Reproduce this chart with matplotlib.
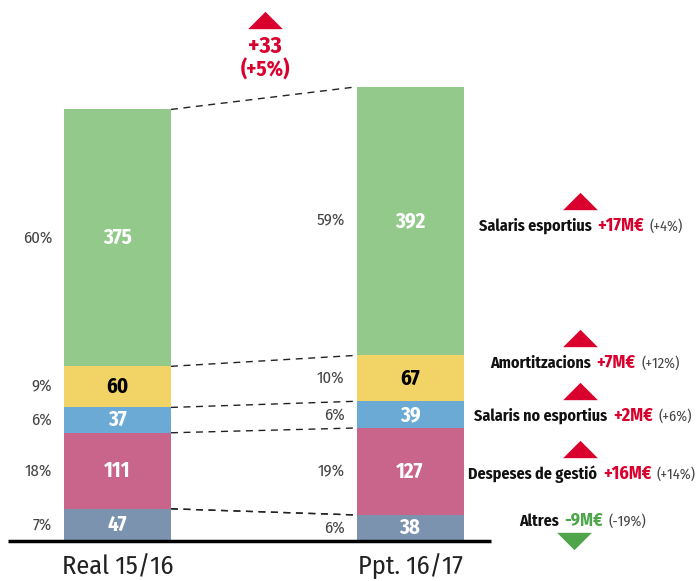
import matplotlib
matplotlib.use("Agg")
import matplotlib.pyplot as plt
from matplotlib.offsetbox import TextArea, HPacker, AnnotationBbox
from matplotlib.path import Path
import numpy as np

# Cost structure in M€, stacked bottom to top
periods = ["Real 15/16", "Ppt. 16/17"]
components = ["Altres", "Despeses de gestió", "Salaris no esportius",
              "Amortitzacions", "Salaris esportius"]
real_1516 = [47, 111, 37, 60, 375]
ppt_1617 = [38, 127, 39, 67, 392]
pct_1516 = ["7%", "18%", "6%", "9%", "60%"]
pct_1617 = ["6%", "19%", "6%", "10%", "59%"]
deltas = ["-9M€", "+16M€", "+2M€", "+7M€", "+17M€"]
delta_pct = ["(-19%)", "(+14%)", "(+6%)", "(+12%)", "(+4%)"]
total_delta = "+33"
total_delta_pct = "(+5%)"

colors = ["#7b93ae", "#c9648b", "#6aaad4", "#f2d466", "#94c98c"]
value_colors = ["white", "white", "white", "black", "white"]
RED = "#d9002e"
GREEN = "#4ea54a"

FONT = ["Fira Sans Condensed", "DejaVu Sans"]
plt.rcParams["font.family"] = FONT

W, H = 699, 581
fig = plt.figure(figsize=(W / 100, H / 100), dpi=100)
ax = fig.add_axes([0, 0, 1, 1])
ax.set_axis_off()

base_px = 541          # pixel row of the baseline
scale = 0.685          # pixels per M€
ax.set_xlim(0, W)
ax.set_ylim(-(H - base_px) / scale, base_px / scale)


def yv(py):
    """pixel row -> value coordinate"""
    return (base_px - py) / scale


bar_x = [117.5, 410]
bar_w = 107

series = [real_1516, ppt_1617]
pcts = [pct_1516, pct_1617]
tops = []
for i, (vals, pl) in enumerate(zip(series, pcts)):
    bottoms = np.concatenate([[0], np.cumsum(vals)[:-1]])
    ax.bar([bar_x[i]] * len(vals), vals, bottom=bottoms, width=bar_w,
           color=colors, edgecolor="none", zorder=2)
    for v, b, c, p in zip(vals, bottoms, value_colors, pl):
        mid = b + v / 2
        ax.text(bar_x[i], mid, str(v), ha="center", va="center",
                fontsize=15, fontweight="bold", color=c, zorder=3)
        ax.text(bar_x[i] - bar_w / 2 - 12, mid, p, ha="right", va="center",
                fontsize=12, color="#444444", zorder=3)
    tops.append(np.cumsum(vals))

# dashed connectors between segment boundaries
x0 = bar_x[0] + bar_w / 2
x1 = bar_x[1] - bar_w / 2
for a, b in zip(tops[0], tops[1]):
    ax.plot([x0, x1], [a, b], ls=(0, (5, 4)), color="#222222", lw=1.0, zorder=1)
ax.plot([x0, x1], [real_1516[0], ppt_1617[0]], ls=(0, (5, 4)),
        color="#222222", lw=1.0, zorder=1)

# baseline
ax.plot([8, 491], [0, 0], color="black", lw=2.5, solid_capstyle="butt", zorder=4)

# period labels
for x, lab in zip(bar_x, periods):
    ax.text(x, yv(567), lab, ha="center", va="center", fontsize=19,
            color="#222222")

tri_up = Path([(-1, -0.5), (1, -0.5), (0, 0.5), (-1, -0.5)],
              [Path.MOVETO, Path.LINETO, Path.LINETO, Path.CLOSEPOLY])
tri_dn = Path([(-1, 0.5), (1, 0.5), (0, -0.5), (-1, 0.5)],
              [Path.MOVETO, Path.LINETO, Path.LINETO, Path.CLOSEPOLY])

# total change
ax.plot([265], [yv(20)], marker=tri_up, ms=25, color=RED, mec="none")
ax.text(265, yv(46), total_delta, ha="center", va="center", fontsize=17,
        fontweight="bold", color=RED)
ax.text(265, yv(70), total_delta_pct, ha="center", va="center", fontsize=15,
        fontweight="bold", color=RED)

# per-component change notes
label_rows = [521, 474, 416, 363, 226]
label_cx = [583, 582, 583, 585, 581]
tri_cx = [574, 580, 580, 580, 580]
for k in range(len(components)):
    up = not deltas[k].startswith("-")
    dcol = RED if up else GREEN
    parts = [
        TextArea(components[k], textprops=dict(fontsize=11.5, fontweight="bold",
                                              color="#111111", family=FONT)),
        TextArea(deltas[k], textprops=dict(fontsize=13, fontweight="bold",
                                           color=dcol, family=FONT)),
        TextArea(delta_pct[k], textprops=dict(fontsize=10.5, color="#444444",
                                              family=FONT)),
    ]
    pack = HPacker(children=parts, align="baseline", pad=0, sep=4)
    ab = AnnotationBbox(pack, (label_cx[k], yv(label_rows[k])),
                        xycoords="data", box_alignment=(0.5, 0.5),
                        frameon=False, pad=0)
    ax.add_artist(ab)
    if up:
        ax.plot([tri_cx[k]], [yv(label_rows[k] - 25)], marker=tri_up, ms=25,
                color=dcol, mec="none")
    else:
        ax.plot([tri_cx[k]], [yv(label_rows[k] + 20)], marker=tri_dn, ms=25,
                color=dcol, mec="none")

fig.savefig("out.png", dpi=100)
